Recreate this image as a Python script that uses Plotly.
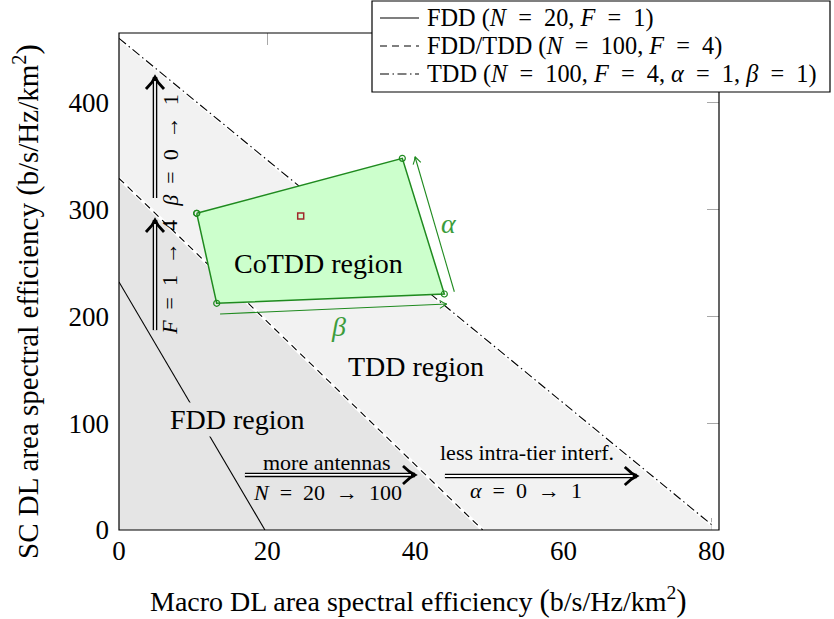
import plotly.graph_objects as go
import numpy as np

# ---------------- data ----------------
fdd_x = [0, 19.7]
fdd_y = [232, 0]
fddtdd_x = [0, 49.1]
fddtdd_y = [329, 0]
tdd_x = [0, 80]
tdd_y = [460, 5]

cotdd_x = [10.49, 38.25, 43.92, 13.19]
cotdd_y = [296.3, 347.7, 220.8, 212.1]
opt_x = [24.53]
opt_y = [293.7]

alpha_arrow_x = [45.27, 39.96]
alpha_arrow_y = [222.9, 349.2]
beta_arrow_x = [13.64, 44.24]
beta_arrow_y = [202.1, 211.4]

SP = "\u2002"
EQ = SP + "=" + SP
TO = SP + "→" + SP

harrow_x0 = [17.0, 44.0]
harrow_x1 = [39.96, 69.9]
harrow_y = [51.5, 50.5]
harrow_top = ["more antennas", "less intra-tier interf."]
harrow_bot = ["<i>N</i>" + EQ + "20" + TO + "100", "<i>α</i>" + EQ + "0" + TO + "1"]
harrow_top_pos = [(28.1, 63.6), (55.1, 72.5)]
harrow_bot_pos = [(28.1, 35.0), (55.0, 37.4)]

varrow_x = [4.86, 4.86]
varrow_y0 = [310.6, 187.0]
varrow_y1 = [423.8, 290.0]
varrow_text = ["<i>β</i>" + EQ + "0" + TO + "1", "<i>F</i>" + EQ + "1" + TO + "4"]
varrow_text_pos = [(6.9, 355.0), (6.9, 236.0)]

region_text = ["FDD region", "TDD region", "CoTDD region"]
region_pos = [(16.0, 103.0), (40.1, 153.0), (26.9, 249.5)]

xticks = [0, 20, 40, 60, 80]
yticks = [0, 100, 200, 300, 400]

legend_labels = ["FDD (<i>N</i>" + EQ + "20, <i>F</i>" + EQ + "1)",
                 "FDD/TDD (<i>N</i>" + EQ + "100, <i>F</i>" + EQ + "4)",
                 "TDD (<i>N</i>" + EQ + "100, <i>F</i>" + EQ + "4, <i>α</i>" + EQ + "1, <i>β</i>" + EQ + "1)"]
legend_dash = ["solid", "7px,5px", "9px,3.5px,1.5px,3.5px"]

BIGL = '<span style="font-size:31px">(</span>'
BIGR = '<span style="font-size:31px">)</span>'
x_title = "Macro DL area spectral efficiency " + BIGL + "b/s/Hz/km<sup>2</sup>" + BIGR
y_title = "SC DL area spectral efficiency " + BIGL + "b/s/Hz/km<sup>2</sup>" + BIGR

# ---------------- geometry helpers ----------------
X0, X1 = 0, 81
Y0, Y1 = 0, 465
L, T, W, H = 119, 33, 600, 497
FW, FH = 834, 619

def px(x): return L + (x - X0) / (X1 - X0) * W
def py(y): return T + H - (y - Y0) / (Y1 - Y0) * H
def dx(p): return X0 + (p - L) / W * (X1 - X0)
def dy(p): return Y0 + (T + H - p) / H * (Y1 - Y0)
def paper_x(p): return (p - L) / W
def paper_y(p): return (T + H - p) / H

def chevron(x0, y0, x1, y1, length, half):
    ax, ay, bx, by = px(x0), py(y0), px(x1), py(y1)
    d = np.hypot(bx - ax, by - ay)
    ux, uy = (bx - ax) / d, (by - ay) / d
    nx, ny = -uy, ux
    pts = [(bx - length * ux + half * nx, by - length * uy + half * ny),
           (bx - 0.45 * length * ux + 0.35 * half * nx, by - 0.45 * length * uy + 0.35 * half * ny),
           (bx, by),
           (bx - 0.45 * length * ux - 0.35 * half * nx, by - 0.45 * length * uy - 0.35 * half * ny),
           (bx - length * ux - half * nx, by - length * uy - half * ny)]
    return [dx(p[0]) for p in pts], [dy(p[1]) for p in pts]

def shorten(x0, y0, x1, y1, pix):
    ax, ay, bx, by = px(x0), py(y0), px(x1), py(y1)
    d = np.hypot(bx - ax, by - ay)
    ux, uy = (bx - ax) / d, (by - ay) / d
    return dx(bx - pix * ux), dy(by - pix * uy)

FONT = "Liberation Serif, Times New Roman, serif"
GREEN = "#1f8a1f"
GREEN_TXT = "#3c9c3c"

fig = go.Figure()

# fills
fig.add_trace(go.Scatter(x=[0] + tdd_x + [tdd_x[-1]], y=[0] + tdd_y + [0], fill="toself",
                         fillcolor="#f2f2f2", line=dict(color="white", width=0), mode="lines",
                         hoverinfo="skip", showlegend=False))
fig.add_trace(go.Scatter(x=[0] + fddtdd_x, y=[0] + fddtdd_y, fill="toself",
                         fillcolor="#e5e5e5", line=dict(color="white", width=0), mode="lines",
                         hoverinfo="skip", showlegend=False))
# white halos
for xs, ys in [(fddtdd_x, fddtdd_y), (tdd_x, tdd_y)]:
    fig.add_trace(go.Scatter(x=xs, y=ys, mode="lines", line=dict(color="white", width=3.5),
                             hoverinfo="skip", showlegend=False))
# boundary lines
fig.add_trace(go.Scatter(x=fdd_x, y=fdd_y, mode="lines", name="FDD",
                         line=dict(color="black", width=1.1), showlegend=False))
fig.add_trace(go.Scatter(x=fddtdd_x, y=fddtdd_y, mode="lines", name="FDD/TDD",
                         line=dict(color="black", width=1.1, dash=legend_dash[1]), showlegend=False))
fig.add_trace(go.Scatter(x=tdd_x, y=tdd_y, mode="lines", name="TDD",
                         line=dict(color="black", width=1.1, dash=legend_dash[2]), showlegend=False))

# CoTDD polygon
fig.add_trace(go.Scatter(x=cotdd_x + [cotdd_x[0]], y=cotdd_y + [cotdd_y[0]], fill="toself",
                         fillcolor="#ccffcc", mode="lines+markers",
                         line=dict(color=GREEN, width=1.5),
                         marker=dict(symbol="circle-open", size=6, color=GREEN, line=dict(width=1.2)),
                         hoverinfo="skip", showlegend=False))
fig.add_trace(go.Scatter(x=opt_x, y=opt_y, mode="markers",
                         marker=dict(symbol="square-open", size=6, color="#a0282a", line=dict(width=1.5)),
                         showlegend=False))

# thin green arrows (alpha, beta)
for xs, ys in [(alpha_arrow_x, alpha_arrow_y), (beta_arrow_x, beta_arrow_y)]:
    fig.add_trace(go.Scatter(x=xs, y=ys, mode="lines", line=dict(color=GREEN, width=1.1),
                             hoverinfo="skip", showlegend=False))
    cx, cy = chevron(xs[0], ys[0], xs[1], ys[1], 7, 4)
    fig.add_trace(go.Scatter(x=cx, y=cy, mode="lines", line=dict(color=GREEN, width=1.1),
                             hoverinfo="skip", showlegend=False))

# double arrows
def double_arrow(x0, y0, x1, y1):
    fig.add_trace(go.Scatter(x=[x0, x1], y=[y0, y1], mode="lines",
                             line=dict(color="black", width=4.6), hoverinfo="skip", showlegend=False))
    sx, sy = shorten(x0, y0, x1, y1, 4)
    fig.add_trace(go.Scatter(x=[x0, sx], y=[y0, sy], mode="lines",
                             line=dict(color="white", width=1.8), hoverinfo="skip", showlegend=False))
    cx, cy = chevron(x0, y0, x1, y1, 12, 9)
    fig.add_trace(go.Scatter(x=cx, y=cy, mode="lines", line=dict(color="black", width=2.8),
                             hoverinfo="skip", showlegend=False))

for i in range(2):
    double_arrow(harrow_x0[i], harrow_y[i], harrow_x1[i], harrow_y[i])
    double_arrow(varrow_x[i], varrow_y0[i], varrow_x[i], varrow_y1[i])

annotations = []
for i in range(2):
    annotations.append(dict(x=harrow_top_pos[i][0], y=harrow_top_pos[i][1], text=harrow_top[i],
                            showarrow=False, font=dict(size=22, color="black", family=FONT)))
    annotations.append(dict(x=harrow_bot_pos[i][0], y=harrow_bot_pos[i][1], text=harrow_bot[i],
                            showarrow=False, font=dict(size=22, color="black", family=FONT)))
    annotations.append(dict(x=varrow_text_pos[i][0], y=varrow_text_pos[i][1], text=varrow_text[i],
                            textangle=-90, showarrow=False,
                            font=dict(size=22, color="black", family=FONT)))
for i, t in enumerate(region_text):
    a = dict(x=region_pos[i][0], y=region_pos[i][1], text=t, showarrow=False,
             font=dict(size=28, color="black", family=FONT))
    if i == 0:
        a["bgcolor"] = "#e5e5e5"
    annotations.append(a)
annotations.append(dict(x=44.5, y=287, text="<i>α</i>", showarrow=False,
                        font=dict(size=28, color=GREEN_TXT, family=FONT)))
annotations.append(dict(x=29.6, y=190, text="<i>β</i>", showarrow=False,
                        font=dict(size=28, color=GREEN_TXT, family=FONT)))

# axis titles
annotations.append(dict(xref="paper", yref="paper", x=paper_x(418), y=paper_y(600),
                        xanchor="center", yanchor="middle", text=x_title, showarrow=False,
                        font=dict(size=28, color="black", family=FONT)))
annotations.append(dict(xref="paper", yref="paper", x=paper_x(26), y=paper_y(302),
                        xanchor="center", yanchor="middle", text=y_title, showarrow=False,
                        textangle=-90, font=dict(size=29, color="black", family=FONT)))

shapes = []
# plot frame
shapes.append(dict(type="rect", xref="paper", yref="paper", x0=0, x1=1, y0=0, y1=1,
                   line=dict(color="black", width=1.2), fillcolor="rgba(0,0,0,0)", layer="above"))
# legend box
lg_left, lg_right, lg_top, lg_bot = 372, 830, 1, 92
shapes.append(dict(type="rect", xref="paper", yref="paper",
                   x0=paper_x(lg_left), x1=paper_x(lg_right), y0=paper_y(lg_bot), y1=paper_y(lg_top),
                   line=dict(color="black", width=1.2), fillcolor="white", layer="above"))
rows = [18, 46, 74]
for i, r in enumerate(rows):
    shapes.append(dict(type="line", xref="paper", yref="paper",
                       x0=paper_x(380), x1=paper_x(419), y0=paper_y(r), y1=paper_y(r),
                       line=dict(color="black", width=1.1, dash=legend_dash[i]), layer="above"))
    annotations.append(dict(xref="paper", yref="paper", x=paper_x(425), y=paper_y(r),
                            xanchor="left", yanchor="middle", text=legend_labels[i], showarrow=False,
                            font=dict(size=24.3, color="black", family=FONT)))

fig.update_layout(
    width=FW, height=FH,
    margin=dict(l=L, r=FW - L - W, t=T, b=FH - T - H, autoexpand=False),
    plot_bgcolor="white", paper_bgcolor="white",
    showlegend=False,
    font=dict(family=FONT, color="black"),
    shapes=shapes, annotations=annotations,
    xaxis=dict(range=[X0, X1], tickvals=xticks, ticks="inside", ticklen=12, tickwidth=1.2,
               tickcolor="#a8a8a8", mirror="ticks", showline=False, showgrid=False, zeroline=False,
               layer="below traces", tickfont=dict(size=27, family=FONT, color="black"),
               ticklabelstandoff=2, automargin=False),
    yaxis=dict(range=[Y0, Y1], tickvals=yticks, ticks="inside", ticklen=12, tickwidth=1.2,
               tickcolor="#a8a8a8", mirror="ticks", showline=False, showgrid=False, zeroline=False,
               layer="below traces", tickfont=dict(size=27, family=FONT, color="black"),
               ticklabelstandoff=9, automargin=False),
)

fig.write_html("out.html")
